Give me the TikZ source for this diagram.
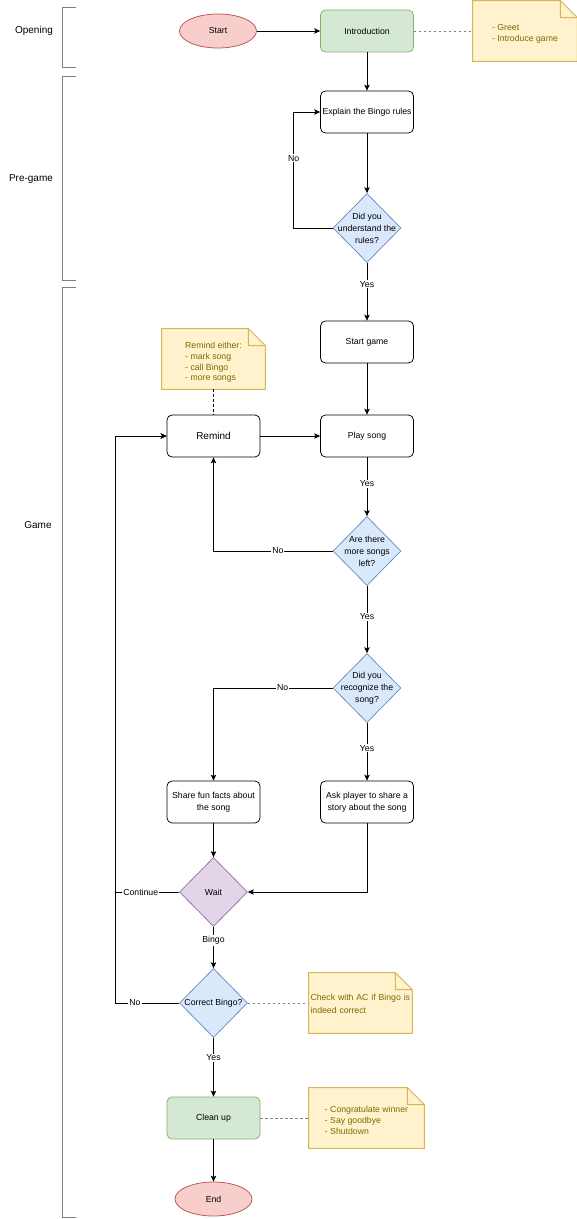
\documentclass[tikz,border=0pt]{standalone}
\usepackage{fontspec}
\setmainfont{Liberation Sans}
\usetikzlibrary{shapes.geometric,arrows.meta}

\definecolor{termfill}{HTML}{F8CECC}
\definecolor{termdraw}{HTML}{B85450}
\definecolor{okfill}{HTML}{D5E8D4}
\definecolor{okdraw}{HTML}{82B366}
\definecolor{askfill}{HTML}{DAE8FC}
\definecolor{askdraw}{HTML}{6C8EBF}
\definecolor{waitfill}{HTML}{E1D5E7}
\definecolor{waitdraw}{HTML}{9673A6}
\definecolor{notefill}{HTML}{FFF2CC}
\definecolor{notedraw}{HTML}{D6B656}
\definecolor{notetextcol}{HTML}{7F6A00}
\definecolor{phasegray}{HTML}{808080}

% folded corner of a sticky note
\newcommand{\notefold}[1]{%
  \fill[white] ([xshift=-17pt]#1.north east) -- (#1.north east) -- ([yshift=-17pt]#1.north east) -- cycle;
  \draw[notedraw, line width=0.9pt] (#1.north west) -- ([xshift=-17pt]#1.north east)
    -- ([yshift=-17pt]#1.north east) -- (#1.south east) -- (#1.south west) -- cycle
    ([xshift=-17pt]#1.north east) |- ([yshift=-17pt]#1.north east);}

\begin{document}
\begin{tikzpicture}[x=1pt,y=-1pt, font=\fontsize{8.7}{12}\selectfont, line width=0.75pt]
    \tikzstyle{terminal} = [ellipse, draw=termdraw, fill=termfill, minimum width=77pt, minimum height=34pt, inner sep=0pt]
    \tikzstyle{stepbox} = [rectangle, rounded corners=5pt, draw, minimum width=93pt, minimum height=42pt, align=center, inner sep=1pt]
    \tikzstyle{decision} = [diamond, draw=askdraw, fill=askfill, minimum width=68pt, minimum height=69pt, inner sep=0pt]
    \tikzstyle{dtext} = [align=center, inner sep=0pt]
    \tikzstyle{note} = [fill=notefill, minimum height=60pt, inner sep=0pt]
    \tikzstyle{ntext} = [text=notetextcol, align=left, inner sep=0pt, font=\fontsize{8.7}{10.7}\selectfont]
    \tikzstyle{arrow} = [-{Stealth[length=6pt,width=5.5pt,inset=1.5pt]}]
    \tikzstyle{lbl} = [fill=white, inner sep=1pt]
    \tikzstyle{link} = [dashed, dash pattern=on 2.5pt off 2.5pt, draw=phasegray]
    \tikzstyle{phase} = [draw=phasegray, line width=1pt]
    \tikzstyle{ann} = [font=\fontsize{10}{12}\selectfont]

    \useasboundingbox (0,0) rectangle (577,1219);

    % phases
    \draw[phase] (76,7) -- (62,7) -- (62,67) -- (76,67);
    \draw[phase] (76,76) -- (62,76) -- (62,280) -- (76,280);
    \draw[phase] (76,287) -- (62,287) -- (62,1217) -- (76,1217);
    \node[ann] (opening) at (34,31) {Opening};
    \node[ann] (pregame) at (31,179) {Pre-game};
    \node[ann] (game) at (38,525) {Game};

    % opening and pre-game
    \node[terminal] (start) at (218,31) {Start};
    \node[stepbox, draw=okdraw, fill=okfill] (intro) at (367,31) {Introduction};
    \node[note, minimum width=104pt, label={[ntext, yshift=-3pt]center:- Greet\\- Introduce game}] (greet) at (525,31) {};
    \notefold{greet}
    \node[stepbox] (explain) at (367,112) {Explain the Bingo rules};
    \node[decision, label={[dtext]center:Did you\\understand the\\rules?}] (rules) at (367,228) {};

    % game
    \node[stepbox] (startgame) at (367,342) {Start game};
    \node[stepbox] (play) at (367,436) {Play song};
    \node[stepbox, font=\fontsize{10}{12}\selectfont] (remind) at (213.5,436) {Remind};
    \node[note, minimum width=103pt, label={[ntext, yshift=-3.5pt]center:Remind either:\\- mark song\\- call Bingo\\- more songs}] (remindnote) at (213.5,359) {};
    \notefold{remindnote}
    \node[decision, label={[dtext]center:Are there\\more songs\\left?}] (more) at (367,551) {};
    \node[decision, label={[dtext]center:Did you\\recognize the\\song?}] (recog) at (367,688) {};
    \node[stepbox] (share) at (213.5,802) {Share fun facts about\\the song};
    \node[stepbox] (ask) at (367,802) {Ask player to share a\\story about the song};
    \node[decision, draw=waitdraw, fill=waitfill, label={[dtext]center:Wait}] (wait) at (213.5,892) {};
    \node[decision, label={[dtext]center:Correct Bingo?}] (correct) at (213.5,1003) {};
    \node[note, minimum width=103pt, label={[ntext, text width=100pt, font=\fontsize{8.7}{13}\selectfont, yshift=-1pt]center:Check with AC if Bingo is\\indeed correct}] (checknote) at (360.5,1003) {};
    \notefold{checknote}
    \node[stepbox, draw=okdraw, fill=okfill] (cleanup) at (213.5,1118) {Clean up};
    \node[note, minimum width=115pt, label={[ntext, yshift=-2.5pt]center:- Congratulate winner\\- Say goodbye\\- Shutdown}] (byenote) at (366.5,1118) {};
    \notefold{byenote}
    \node[terminal] (end) at (213.5,1199) {End};

    % connectors
    \draw[arrow] (start) -- (intro);
    \draw[link] (intro) -- (greet);
    \draw[arrow] (intro) -- (explain);
    \draw[arrow] (explain) -- (rules);
    \draw[arrow] (rules.west) -- ++(-39,0) |- node[lbl, pos=0.3] {No} (explain.west);
    \draw[arrow] (rules.south) -- node[lbl, pos=0.37] {Yes} (startgame.north);
    \draw[arrow] (startgame) -- (play);
    \draw[link, draw=black] (remindnote) -- (remind);
    \draw[arrow] (remind) -- (play);
    \draw[arrow] (play.south) -- node[lbl, pos=0.45] {Yes} (more.north);
    \draw[arrow] (more.west) -| node[lbl, pos=0.23] {No} (remind.south);
    \draw[arrow] (more.south) -- node[lbl, pos=0.46] {Yes} (recog.north);
    \draw[arrow] (recog.west) -| node[lbl, pos=0.21] {No} (share.north);
    \draw[arrow] (recog.south) -- node[lbl, pos=0.44] {Yes} (ask.north);
    \draw[arrow] (share) -- (wait);
    \draw[arrow] (ask.south) |- (wait.east);
    \draw[arrow] (wait.west) -- node[lbl, pos=0.6] {Continue} ++(-64,0) |- (remind.west);
    \draw[arrow] (wait.south) -- node[lbl, pos=0.33] {Bingo} (correct.north);
    \draw[arrow] (correct.west) -- node[lbl, pos=0.69] {No} ++(-64,0) |- (remind.west);
    \draw[link] (correct) -- (checknote);
    \draw[arrow] (correct.south) -- node[lbl, pos=0.34] {Yes} (cleanup.north);
    \draw[link] (cleanup) -- (byenote);
    \draw[arrow] (cleanup) -- (end);
\end{tikzpicture}
\end{document}
